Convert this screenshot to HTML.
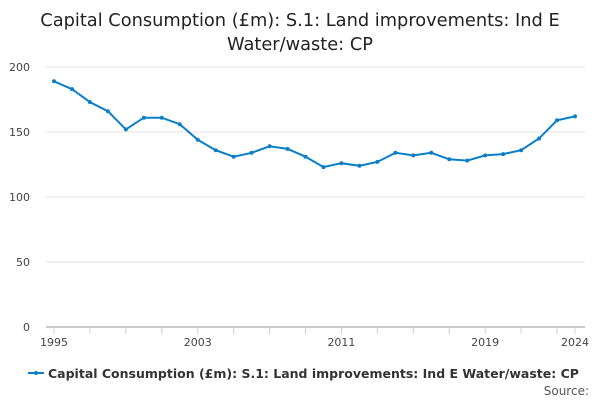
<!DOCTYPE html>
<html><head><meta charset="utf-8"><style>
body{margin:0;background:#fff;font-family:"Liberation Sans","DejaVu Sans",sans-serif;}
svg text{font-family:"DejaVu Sans","Liberation Sans",sans-serif;}
</style></head><body>
<svg id="chart" width="600" height="400" xmlns="http://www.w3.org/2000/svg">
<text x="300" y="26" text-anchor="middle" font-size="17.8" fill="#222">Capital Consumption (£m): S.1: Land improvements: Ind E</text>
<text x="300" y="50" text-anchor="middle" font-size="17.8" fill="#222">Water/waste: CP</text>
<g id="grid"></g><g id="xaxis"></g><g id="series"></g>
<g>
<line x1="28" y1="373" x2="44" y2="373" stroke="#0b7fc6" stroke-width="2"/>
<circle cx="36" cy="373" r="2" fill="#0b7fc6"/>
<text x="48" y="378" font-size="12.5" font-weight="bold" fill="#333">Capital Consumption (£m): S.1: Land improvements: Ind E Water/waste: CP</text>
</g>
<text x="589" y="395" text-anchor="end" font-size="12" fill="#555">Source:</text>
</svg>
<script>
const years=[1995,1996,1997,1998,1999,2000,2001,2002,2003,2004,2005,2006,2007,2008,2009,2010,2011,2012,2013,2014,2015,2016,2017,2018,2019,2020,2021,2022,2023,2024];
const values=[189,183,173,166,152,161,161,156,144,136,131,134,139,137,131,123,126,124,127,134,132,134,129,128,132,133,136,145,159,162];
const yTicks=[0,50,100,150,200];
const xLabels=[1995,2003,2011,2019,2024];
const NS="http://www.w3.org/2000/svg";
const x=v=>54+(v-1995)*(575-54)/29;
const y=v=>327-v*1.3;
function mk(p,t,a){const e=document.createElementNS(NS,t);for(const k in a)e.setAttribute(k,a[k]);document.getElementById(p).appendChild(e);return e;}
yTicks.forEach(t=>{
 const l=mk('grid','line',{x1:46,x2:585,y1:y(t),y2:y(t),stroke:t===0?'#999':'#e3e3e3'});
 
 
 const tx=mk('grid','text',{x:30,y:y(t)+4,'text-anchor':'end','font-size':11,fill:'#444'});
 tx.textContent=t;
 
 
});
years.forEach(yr=>{
 if(yr%2===1||yr===2024){const l=mk('xaxis','line',{x1:x(yr),x2:x(yr),y1:327,y2:334,stroke:'#ccd'});
 
 }
});
xLabels.forEach(yr=>{
 const t=mk('xaxis','text',{x:x(yr),y:346,'text-anchor':'middle','font-size':11,fill:'#444'});
 t.textContent=yr;
 
 
});
const path=mk('series','polyline',{points:years.map((yr,i)=>x(yr)+','+y(values[i])).join(' '),fill:'none',stroke:'#0b7fc6','stroke-width':2});


years.forEach((yr,i)=>{
 const c=mk('series','circle',{cx:x(yr),cy:y(values[i]),r:2,fill:'#0b7fc6'});
 
 
});
</script>
</body></html>
